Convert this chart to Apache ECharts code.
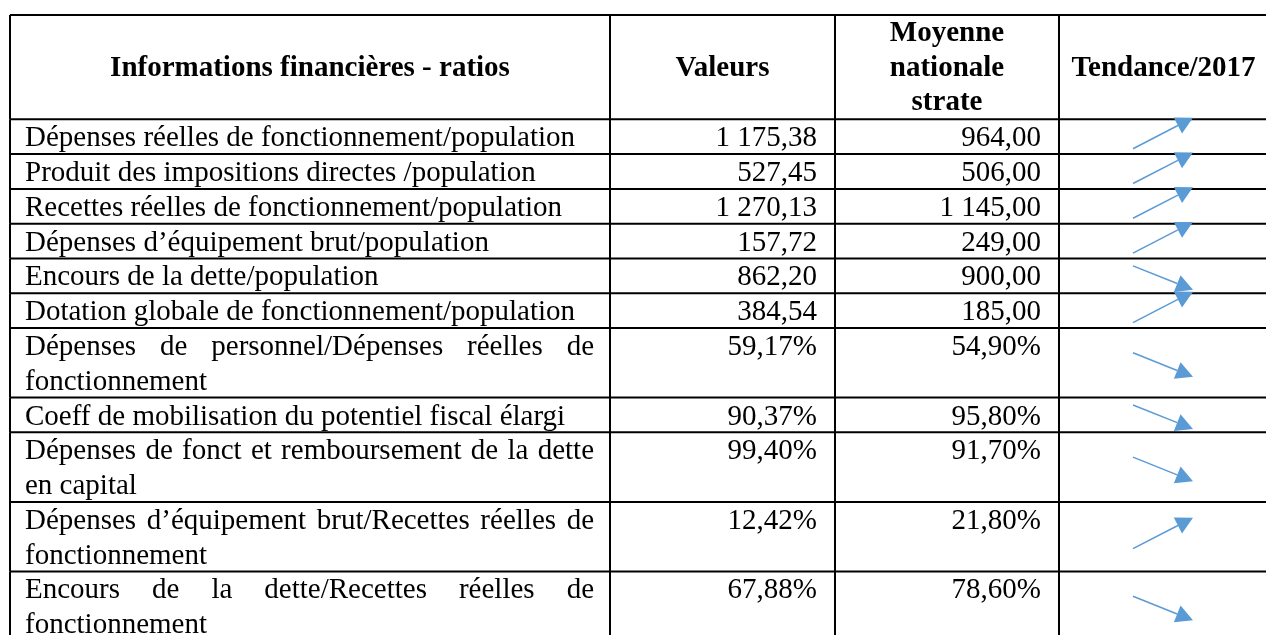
<!DOCTYPE html>
<html lang="fr">
<head>
    <meta charset="UTF-8">
    <title>Informations financières - ratios</title>
    <script src="https://cdn.jsdelivr.net/npm/echarts@6.0.0/dist/echarts.min.js"></script>
    <style>html, body { margin: 0; padding: 0; background: #fff; }</style>
</head>
<body>
    <div id="main" style="width: 1266px;height: 635px"></div>
    <script type="text/javascript">
        // données du tableau
        var enTetes = ['Informations financières - ratios', 'Valeurs', 'Moyenne\nnationale\nstrate', 'Tendance/2017'];
        var indicateurs = [
            'Dépenses réelles de fonctionnement/population',
            'Produit des impositions directes /population',
            'Recettes réelles de fonctionnement/population',
            'Dépenses d’équipement brut/population',
            'Encours de la dette/population',
            'Dotation globale de fonctionnement/population',
            'Dépenses de personnel/Dépenses réelles de fonctionnement',
            'Coeff de mobilisation du potentiel fiscal élargi',
            'Dépenses de fonct et remboursement de la dette en capital',
            'Dépenses d’équipement brut/Recettes réelles de fonctionnement',
            'Encours de la dette/Recettes réelles de fonctionnement'
        ];
        var valeurs = [1175.38, 527.45, 1270.13, 157.72, 862.20, 384.54, 59.17, 90.37, 99.40, 12.42, 67.88];
        var moyennes = [964.00, 506.00, 1145.00, 249.00, 900.00, 185.00, 54.90, 95.80, 91.70, 21.80, 78.60];
        var unites = ['', '', '', '', '', '', '%', '%', '%', '%', '%'];
        var tendances = ['hausse', 'hausse', 'hausse', 'hausse', 'baisse', 'hausse', 'baisse', 'baisse', 'baisse', 'hausse', 'baisse'];

        // mise en page
        var police = 'Liberation Serif';
        var taille = 29;
        var colX = [10, 610, 835, 1059, 1268];
        var padG = 15, padD = 16, padVal = 18;
        var hautLigne = 34.78;   // hauteur d'une ligne de texte en px
        var margeHaut = 15;
        var bleu = '#5B9BD5';

        var ctx = document.createElement('canvas').getContext('2d');
        function largeur(t, gras) {
            ctx.font = (gras ? 'bold ' : '') + taille + 'px "' + police + '"';
            return ctx.measureText(t).width;
        }
        // coupure des mots comme dans une cellule de Word
        function couper(texte, w) {
            var mots = texte.split(' '), lignes = [], cur = [];
            mots.forEach(function (m) {
                if (cur.length && largeur(cur.concat([m]).join(' ')) > w) {
                    lignes.push(cur);
                    cur = [m];
                } else {
                    cur.push(m);
                }
            });
            lignes.push(cur);
            return lignes;
        }
        function fmt(v, u) {
            var s = v.toFixed(2).split('.');
            return s[0].replace(/\B(?=(\d{3})+(?!\d))/g, ' ') + ',' + s[1] + u;
        }
        function texte(t, x, y, align, gras) {
            return {
                type: 'text', x: x, y: y,
                style: {
                    text: t, fill: '#000', fontSize: taille, fontFamily: police,
                    fontWeight: gras ? 'bold' : 'normal',
                    align: align, verticalAlign: 'middle',
                    textAlign: align, textVerticalAlign: 'middle'
                }
            };
        }
        function trait(x1, y1, x2, y2) {
            return { type: 'line', shape: { x1: x1, y1: y1, x2: x2, y2: y2 }, style: { stroke: '#000', lineWidth: 2 } };
        }

        var largeurTexte = colX[1] - colX[0] - padG - padD;
        var lignesTexte = indicateurs.map(function (t) { return couper(t, largeurTexte); });
        var debut = [];
        var pos = enTetes[2].split('\n').length;
        lignesTexte.forEach(function (l) { debut.push(pos); pos += l.length; });
        var donnees = indicateurs.map(function (t, i) { return [i, debut[i], lignesTexte[i].length]; });

        function colonnes(api) {
            return colX.map(function (x) { return api.coord([x, 0])[0]; });
        }

        function dessinerEnTete(params, api) {
            var n = api.value(2);
            var haut = api.coord([0, 0])[1], bas = api.coord([0, n])[1];
            var unite = (bas - haut) / n;
            var X = colonnes(api);
            var enfants = [trait(X[0], haut, X[4], haut), trait(X[0], bas, X[4], bas)];
            for (var k = 0; k < X.length; k++) enfants.push(trait(X[k], haut, X[k], bas));
            enTetes.forEach(function (t, c) {
                var lignes = t.split('\n');
                var cx = (X[c] + X[c + 1]) / 2;
                var y0 = (haut + bas) / 2 - (lignes.length - 1) * unite / 2;
                lignes.forEach(function (l, j) {
                    enfants.push(texte(l, cx, y0 + j * unite + 1, 'center', true));
                });
            });
            return { type: 'group', children: enfants };
        }

        function dessinerLigne(params, api) {
            var i = api.value(0), y0 = api.value(1), n = api.value(2);
            var haut = api.coord([0, y0])[1], bas = api.coord([0, y0 + n])[1];
            var unite = (bas - haut) / n;
            var X = colonnes(api);
            var enfants = [trait(X[0], bas, X[4], bas)];
            for (var k = 0; k < X.length; k++) enfants.push(trait(X[k], haut, X[k], bas));

            // libellé, justifié sauf la dernière ligne
            var lignes = lignesTexte[i];
            lignes.forEach(function (mots, j) {
                var y = haut + unite * (j + 0.5) + 2;
                var x = X[0] + padG;
                if (j < lignes.length - 1 && mots.length > 1) {
                    var total = 0;
                    mots.forEach(function (m) { total += largeur(m); });
                    var ecart = (X[1] - padD - x - total) / (mots.length - 1);
                    mots.forEach(function (m) {
                        enfants.push(texte(m, x, y, 'left'));
                        x += largeur(m) + ecart;
                    });
                } else {
                    enfants.push(texte(mots.join(' '), x, y, 'left'));
                }
            });

            var yv = haut + unite * 0.5 + 2;
            enfants.push(texte(fmt(valeurs[i], unites[i]), X[2] - padVal, yv, 'right'));
            enfants.push(texte(fmt(moyennes[i], unites[i]), X[3] - padVal, yv, 'right'));

            // flèche de tendance
            var cy = (haut + bas) / 2;
            var hausse = tendances[i] === 'hausse';
            var x1 = X[3] + 74, x2 = X[3] + 134;
            var y1 = hausse ? cy + 12 : cy - 10;
            var y2 = hausse ? cy - 19 : cy + 14;
            var dx = x2 - x1, dy = y2 - y1, L = Math.sqrt(dx * dx + dy * dy);
            var ux = dx / L, uy = dy / L;
            var bx = x2 - ux * 17, by = y2 - uy * 17;
            enfants.push({ type: 'line', shape: { x1: x1, y1: y1, x2: bx, y2: by }, style: { stroke: bleu, lineWidth: 1.5 } });
            enfants.push({
                type: 'polygon',
                shape: { points: [[x2, y2], [bx - uy * 9, by + ux * 9], [bx + uy * 9, by - ux * 9]] },
                style: { fill: bleu }
            });
            return { type: 'group', children: enfants };
        }

        var myChart = echarts.init(document.getElementById('main'));
        var option = {
            animation: false,
            backgroundColor: '#fff',
            grid: { left: 0, right: 0, top: margeHaut, bottom: 0 },
            xAxis: { type: 'value', min: 0, max: 1266, show: false },
            yAxis: { type: 'value', min: 0, max: (635 - margeHaut) / hautLigne, inverse: true, show: false },
            series: [
                { type: 'custom', clip: false, renderItem: dessinerEnTete, data: [[0, 0, 3]] },
                { type: 'custom', clip: false, renderItem: dessinerLigne, data: donnees }
            ]
        };
        myChart.setOption(option);
    </script>
</body>
</html>
